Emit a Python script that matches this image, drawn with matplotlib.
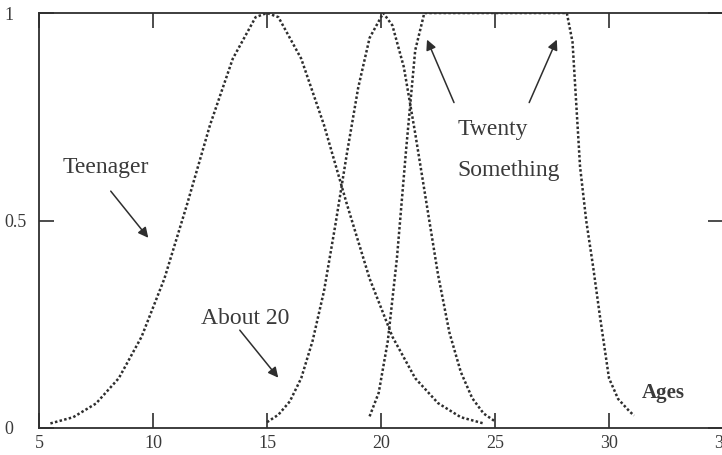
import matplotlib
matplotlib.use("Agg")
import matplotlib.pyplot as plt

# ---- data ----
teen_x = [5.5, 6.5, 7.5, 8.5, 9.5, 10.5, 11.5, 12.5, 13.5, 14.5, 15.0,
          15.5, 16.5, 17.5, 18.5, 19.5, 20.5, 21.5, 22.5, 23.5, 24.5]
teen_y = [0.011, 0.026, 0.059, 0.12, 0.22, 0.36, 0.54, 0.73, 0.89, 0.99, 1.0,
          0.99, 0.89, 0.73, 0.54, 0.36, 0.22, 0.12, 0.06, 0.026, 0.011]

a20_x = [15.0, 15.5, 16.0, 16.5, 17.0, 17.5, 18.0, 18.5, 19.0, 19.5, 20.1,
         20.5, 21.0, 21.5, 22.0, 22.5, 23.0, 23.5, 24.0, 24.5, 25.0]
a20_y = [0.014, 0.032, 0.064, 0.12, 0.21, 0.33, 0.49, 0.66, 0.82, 0.94, 1.0,
         0.97, 0.87, 0.71, 0.54, 0.37, 0.23, 0.135, 0.072, 0.035, 0.016]

tw_x = [19.5, 19.9, 20.3, 20.7, 21.1, 21.5, 21.9, 28.15,
        28.4, 28.73, 29.0, 29.3, 29.6, 30.0, 30.4, 30.9, 31.1]
tw_y = [0.028, 0.085, 0.21, 0.41, 0.67, 0.91, 1.0, 1.0,
        0.93, 0.63, 0.5, 0.39, 0.27, 0.12, 0.07, 0.04, 0.03]

x_ticks = [5, 10, 15, 20, 25, 30, 35]
y_ticks = [0, 0.5, 1]
y_ticklabels = ["0", "0.5", "1"]

# ---- figure ----
W, H = 722, 455
fig = plt.figure(figsize=(W / 100, H / 100), dpi=100)
ax = fig.add_axes([39 / W, 1 - 428 / H, 684 / W, 415 / H])

ink = "#2e2e2e"
txt = "#3a3a3a"
serif = ["Liberation Serif", "DejaVu Serif"]

for xs, ys in [(teen_x, teen_y), (a20_x, a20_y), (tw_x, tw_y)]:
    ax.plot(xs, ys, color=ink, lw=1.8, ls=(0, (1.0, 0.9)), solid_capstyle="butt")

ax.set_xlim(5, 35)
ax.set_ylim(0, 1)

ax.set_xticks(x_ticks)
ax.set_xticklabels([str(v) for v in x_ticks], fontfamily=serif, fontsize=13, color=txt)
ax.set_yticks(y_ticks)
ax.set_yticklabels(y_ticklabels, fontfamily=serif, fontsize=13, color=txt, ha="left")

ax.tick_params(axis="x", direction="in", length=11, width=1.2, color=ink,
               top=True, bottom=True, pad=5)
ax.tick_params(axis="y", direction="in", length=11, width=1.2, color=ink,
               left=True, right=True, pad=25)

for s in ["left", "bottom", "top"]:
    ax.spines[s].set_color(ink)
    ax.spines[s].set_linewidth(1.3)
ax.spines["right"].set_visible(False)

fs = 17
arrow = dict(arrowstyle="-|>", color=ink, lw=1.1, mutation_scale=15)

ax.text(7.94, 0.627, "Teenager", fontfamily=serif, fontsize=fs, color=txt,
        ha="center", va="center")
ax.annotate("", xy=(9.87, 0.453), xytext=(8.07, 0.576), arrowprops=arrow)

ax.text(14.04, 0.263, "About 20", fontfamily=serif, fontsize=fs, color=txt,
        ha="center", va="center")
ax.annotate("", xy=(15.57, 0.116), xytext=(13.73, 0.241), arrowprops=arrow)

ax.text(23.35, 0.72, "Twenty", fontfamily=serif, fontsize=fs, color=txt,
        ha="left", va="center")
ax.text(23.35, 0.62, "Something", fontfamily=serif, fontsize=fs, color=txt,
        ha="left", va="center")
ax.annotate("", xy=(21.97, 0.942), xytext=(23.25, 0.778), arrowprops=arrow)
ax.annotate("", xy=(27.76, 0.942), xytext=(26.45, 0.778), arrowprops=arrow)

ax.text(32.37, 0.084, "Ages", fontfamily=serif, fontsize=15, fontweight="bold",
        color=txt, ha="center", va="center")

fig.savefig("out.png", dpi=100)
